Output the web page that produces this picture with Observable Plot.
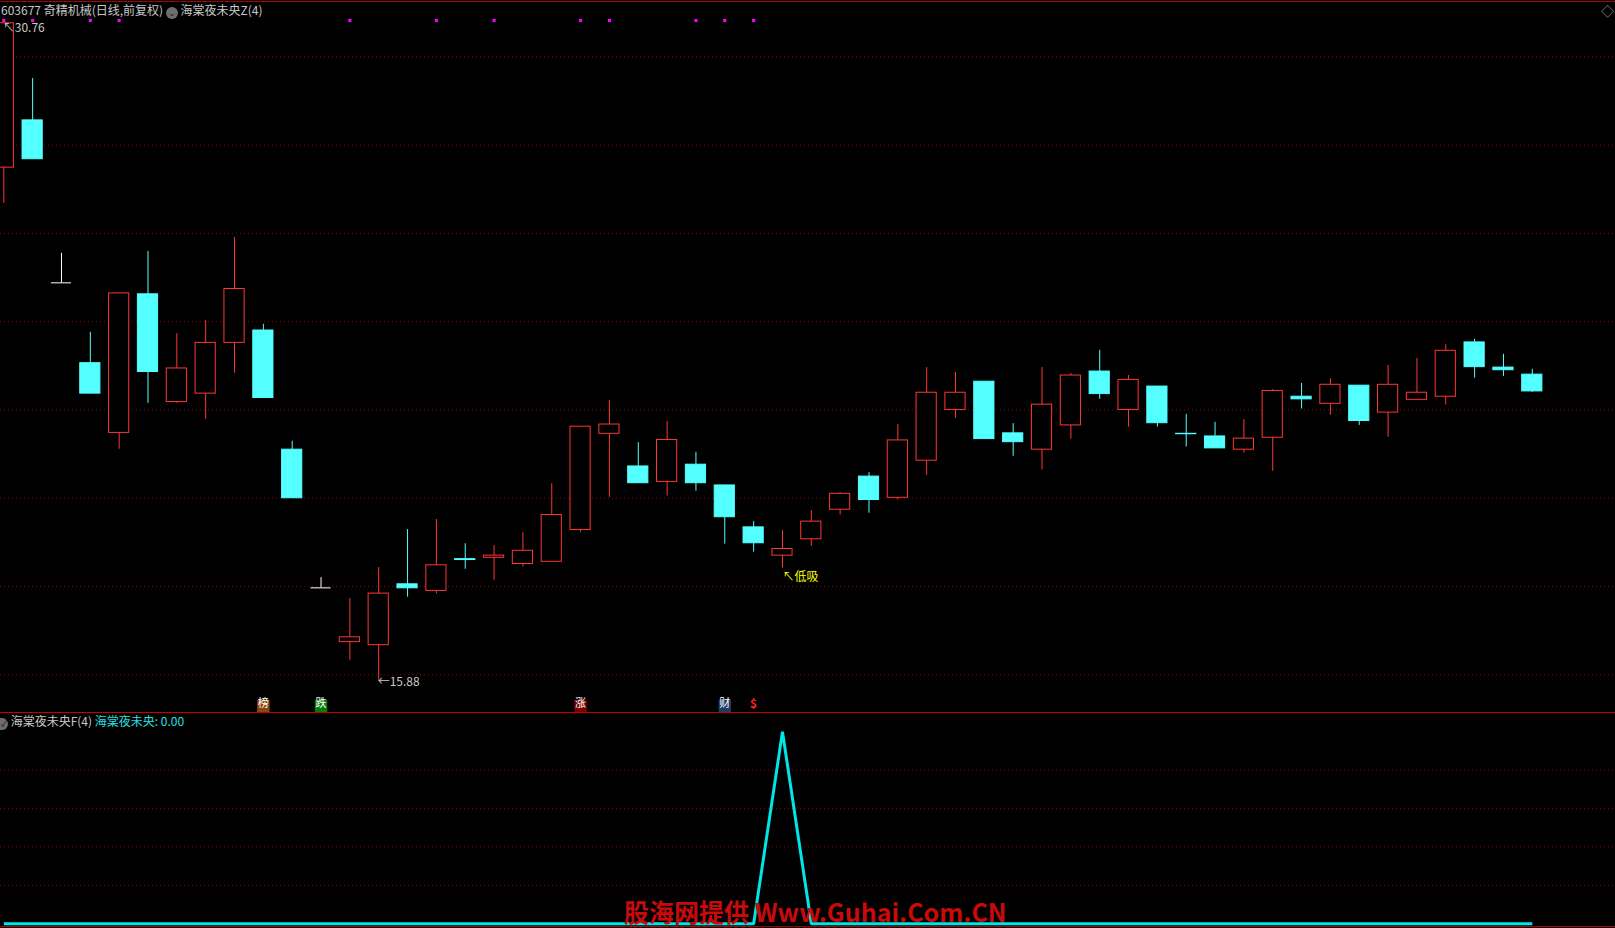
<!DOCTYPE html>
<html>
<head>
<meta charset="utf-8">
<script src="https://cdn.jsdelivr.net/npm/d3@7"></script>
<script src="https://cdn.jsdelivr.net/npm/@observablehq/plot@0.6"></script>
<style>
  html, body { margin: 0; padding: 0; background: #000; }
  #wrap { position: relative; width: 1615px; height: 928px; background: #000; overflow: hidden;
          font-family: "Noto Sans CJK SC", "Noto Sans", sans-serif; }
  #top, #bot { position: absolute; left: 0; }
  #top { top: 0; }
  #bot { top: 712px; }
  .hline { position: absolute; left: 0; width: 1615px; height: 1px; }
  .txt { position: absolute; white-space: nowrap; line-height: 1; }
  .icon { display: inline-block; width: 12px; height: 12px; border-radius: 50%; background: #6e6e6e;
          color: #1a1a1a; font-size: 9px; line-height: 12px; text-align: center; vertical-align: -1px; }
</style>
</head>
<body>
<div id="wrap">
  <div id="top"></div>
  <div id="bot"></div>
  <div class="hline" style="top:1px;background:#a80000"></div>
  <div class="hline" style="top:712px;background:#c80000"></div>
  <div class="hline" style="top:926px;background:#a80000"></div>
  <div class="txt" style="left:1px;top:4px;font-size:12px;color:#c8c8c8">603677 奇精机械(日线,前复权) <span class="icon">⌄</span> 海棠夜未央Z(4)</div>
  <div class="txt" style="left:1601px;top:4px;font-size:13px;color:#8a8a8a">◇</div>
  <div class="txt" style="left:0px;top:715px;font-size:12px;color:#c8c8c8"><span class="icon" style="width:8px;border-radius:0 6px 6px 0">✓</span> 海棠夜未央F(4) <span style="color:#22e0e0">海棠夜未央: 0.00</span></div>
  <div class="txt" style="left:624px;top:899px;font-size:25px;font-weight:bold;color:#c80a0a">股海网提供 Www.Guhai.Com.CN</div>
</div>
<script>
// ---- data ----
const open  = [27.49,28.56,24.88,23.06,21.48,24.62,22.18,22.37,23.52,23.80,21.10,17.97,16.74,16.67,18.05,17.90,18.62,18.65,18.51,18.56,19.28,21.46,20.72,20.37,20.76,20.29,19.34,18.70,19.07,19.74,20.49,20.01,20.85,22.00,22.64,21.47,21.10,21.65,22.87,22.00,22.53,21.46,21.40,21.10,21.37,22.30,22.14,22.55,21.94,22.23,22.30,23.53,22.96,22.80];
const high  = [30.76,29.51,25.55,23.76,24.64,25.59,23.73,24.03,25.91,23.94,21.29,18.20,17.73,18.43,19.29,19.52,18.97,18.93,19.22,20.33,21.62,22.21,21.26,21.74,21.04,20.29,19.47,19.27,19.72,20.13,20.58,21.67,22.96,22.85,22.64,21.69,22.96,22.83,23.35,22.78,22.53,21.90,21.72,21.78,22.46,22.60,22.71,22.55,23.01,23.17,23.48,23.60,23.26,22.92];
const low   = [26.68,27.68,24.88,22.37,21.11,22.15,22.15,21.79,22.83,22.27,20.00,17.97,16.33,15.88,17.76,17.83,18.39,18.14,18.44,18.56,19.23,20.02,20.34,20.05,20.16,18.96,18.78,18.42,18.91,19.62,19.66,19.96,20.52,21.81,21.34,20.95,20.64,21.34,22.24,21.61,21.61,21.16,21.13,21.02,20.61,22.02,21.88,21.65,21.38,22.23,22.11,22.72,22.76,22.40];
const close = [30.76,27.68,24.88,22.37,24.64,22.86,22.94,23.52,24.74,22.27,20.00,17.97,16.85,17.84,17.96,18.48,18.60,18.70,18.81,19.62,21.62,21.67,20.34,21.32,20.34,19.57,18.98,18.85,19.47,20.10,19.96,21.31,22.39,22.39,21.34,21.27,22.12,22.78,22.36,22.68,21.70,21.45,21.13,21.35,22.43,22.24,22.57,21.75,22.57,22.39,23.34,22.97,22.90,22.42];
const indicator = [0,0,0,0,0,0,0,0,0,0,0,0,0,0,0,0,0,0,0,0,0,0,0,0,0,0,0,1,0,0,0,0,0,0,0,0,0,0,0,0,0,0,0,0,0,0,0,0,0,0,0,0,0,0];
const priceGrid = [16,18,20,22,24,26,28,30];
const indGrid = [0.2,0.4,0.6,0.8];
const signalDots = [0,1,3,4,12,15,17,20,21,24,25,26];
const markerIdx = [9,11,20,25];
const markerText = ["榜","跌","涨","财"];
const dollarIdx = [26];
const buyIdx = [27];
const buyText = ["↖低吸"];

// ---- styles ----
const RED = "#ff3636", CYAN = "#54ffff", GRID = "#8c0000";
const markerBg = ["#8a4612","#0a7a0a","#7a0000","#1c3a66"];
const W = 1615, HT = 712, HB = 216;
const HALF = 0.35;
const xDomain = [-0.1144, 55.885];

const candles = open.map((o, i) => ({i, open: o, high: high[i], low: low[i], close: close[i]}));
const up = candles.filter(d => d.close > d.open);
const down = candles.filter(d => d.close < d.open);
const flat = candles.filter(d => d.close === d.open);
const hiI = d3.maxIndex(high), loI = d3.minIndex(low);
const markers = markerIdx.map((m, k) => ({i: m, t: markerText[k], bg: markerBg[k]}));

const topChart = Plot.plot({
  width: W, height: HT,
  marginTop: 0, marginBottom: 0, marginLeft: 0, marginRight: 0,
  style: {background: "transparent", fontFamily: "Noto Sans CJK SC, sans-serif", overflow: "visible"},
  x: {type: "linear", domain: xDomain, axis: null},
  y: {domain: [15.146, 31.276], axis: null},
  marks: [
    Plot.ruleY(priceGrid, {y: d => d, stroke: GRID, strokeDasharray: "1 3"}),
    Plot.ruleX(up, {x: "i", y1: "low", y2: "high", stroke: RED}),
    Plot.ruleX(down, {x: "i", y1: "low", y2: "high", stroke: CYAN}),
    Plot.ruleX(flat, {x: "i", y1: "low", y2: "high", stroke: "#fff"}),
    Plot.rect(up, {x1: d => d.i - HALF, x2: d => d.i + HALF, y1: "open", y2: "close", fill: "#000", stroke: RED, strokeWidth: 1}),
    Plot.rect(down, {x1: d => d.i - HALF, x2: d => d.i + HALF, y1: "open", y2: "close", fill: CYAN, stroke: CYAN, strokeWidth: 1}),
    Plot.ruleY(flat, {y: "close", x1: d => d.i - HALF, x2: d => d.i + HALF, stroke: "#fff"}),
    Plot.dot(signalDots, {x: d => d, frameAnchor: "top", dy: 20, symbol: "square", r: 1.75, fill: "#ff00ff", stroke: null}),
    Plot.dot(markers, {x: "i", frameAnchor: "bottom", dy: -6.5, symbol: "square", r: 7, fill: "bg", stroke: null}),
    Plot.text(markers, {x: "i", frameAnchor: "bottom", dy: -5.5, text: "t", fill: "#fff", fontSize: 11}),
    Plot.text(dollarIdx, {x: d => d, frameAnchor: "bottom", dy: -4.5, text: () => "$", fill: "#ff2020", fontSize: 12, fontWeight: "bold"}),
    Plot.text([hiI], {x: d => d, y: d => high[d], text: d => "↖" + high[d].toFixed(2), textAnchor: "start", dx: -1, dy: 5, fill: "#c8c8c8", fontSize: 12}),
    Plot.text([loI], {x: d => d, y: d => low[d], text: d => "←" + low[d].toFixed(2), textAnchor: "start", dx: -1, dy: 2, fill: "#c8c8c8", fontSize: 12}),
    Plot.text(buyIdx, {x: d => d, y: d => low[d], text: (d, k) => buyText[k], textAnchor: "start", dx: 0, dy: 9, fill: "#ffff00", fontSize: 12})
  ]
});
document.getElementById("top").appendChild(topChart);

const botChart = Plot.plot({
  width: W, height: HB,
  marginTop: 0, marginBottom: 0, marginLeft: 0, marginRight: 0,
  style: {background: "transparent", overflow: "visible"},
  x: {type: "linear", domain: xDomain, axis: null},
  y: {domain: [-0.0245, 1.1005], axis: null},
  marks: [
    Plot.ruleY(indGrid, {y: d => d, stroke: GRID, strokeDasharray: "1 3"}),
    Plot.line(indicator, {x: (d, i) => i, y: d => d, stroke: "#00e6e6", strokeWidth: 3, strokeLinejoin: "miter", strokeLinecap: "butt"})
  ]
});
document.getElementById("bot").appendChild(botChart);
</script>
</body>
</html>
